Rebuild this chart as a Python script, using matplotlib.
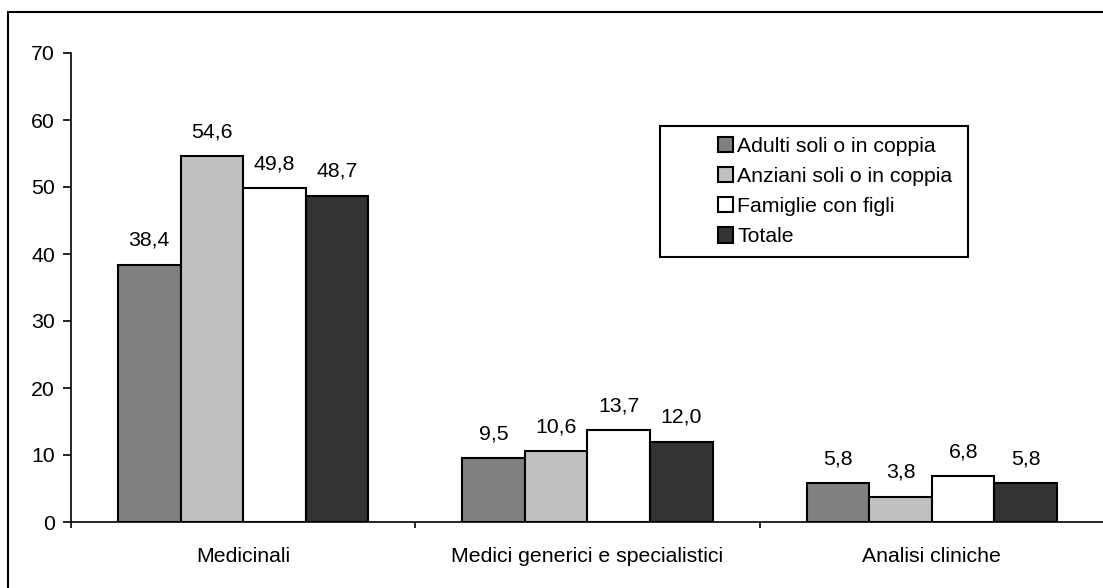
import matplotlib
matplotlib.use('Agg')
import matplotlib.pyplot as plt
from matplotlib.patches import Rectangle
import numpy as np

plt.rcParams['font.family'] = ['Liberation Sans', 'DejaVu Sans']

categorie = ['Medicinali', 'Medici generici e specialistici', 'Analisi cliniche']
serie = ['Adulti soli o in coppia', 'Anziani soli o in coppia', 'Famiglie con figli', 'Totale']
adulti = [38.4, 9.5, 5.8]
anziani = [54.6, 10.6, 3.8]
famiglie = [49.8, 13.7, 6.8]
totale = [48.7, 12.0, 5.8]
valori = [adulti, anziani, famiglie, totale]
colori = ['#808080', '#c0c0c0', '#ffffff', '#333333']

W, H = 1103, 588
FS = 15.3
fig = plt.figure(figsize=(W / 100, H / 100), dpi=100)

# cornice esterna (tagliata a destra e in basso come nell'originale)
fig.patches.append(Rectangle((8 / W, -0.1), 1.2, 1 - 12 / H + 0.1, transform=fig.transFigure,
                             fill=False, edgecolor='black', linewidth=1.5, clip_on=False))

ax = fig.add_axes([71 / W, 1 - 522 / H, (1104 - 71) / W, (522 - 53) / H])

x = np.arange(len(categorie))
w = 1 / 5.5
for i, (nome, vals, col) in enumerate(zip(serie, valori, colori)):
    pos = x + (i - 1.5) * w
    bars = ax.bar(pos, vals, width=w, color=col, edgecolor='black', linewidth=1.5, label=nome, zorder=3)
    for b, v in zip(bars, vals):
        ax.annotate(f'{v:.1f}'.replace('.', ','), (b.get_x() + b.get_width() / 2, v),
                    xytext=(0, 17.5), textcoords='offset points', ha='center', va='center', fontsize=FS)

ax.set_xlim(-0.5, 2.5)
ax.set_ylim(0, 70)
ax.set_yticks(range(0, 71, 10))
ax.set_xticks(x)
ax.set_xticklabels(categorie, fontsize=FS)
ax.set_xticks([-0.5, 0.5, 1.5, 2.5], minor=True)
ax.tick_params(axis='x', which='major', length=0, pad=18)
ax.tick_params(axis='x', which='minor', length=4.5, width=1.2, direction='out')
ax.tick_params(axis='y', length=5.5, width=1.2, pad=6, labelsize=FS)
for s in ['top', 'right']:
    ax.spines[s].set_visible(False)
for s in ['left', 'bottom']:
    ax.spines[s].set_linewidth(1.2)

# riquadro della legenda
fig.patches.append(Rectangle((660 / W, 1 - 257 / H), 308 / W, 131 / H, transform=fig.transFigure,
                             fill=False, edgecolor='black', linewidth=1.5))
ax.legend(loc='upper left', bbox_to_anchor=(707 / W, 1 - 126 / H), bbox_transform=fig.transFigure,
          frameon=False, fontsize=FS, handlelength=0.72, handleheight=0.72,
          handletextpad=0.2, labelspacing=0.53, borderpad=0)

fig.savefig('out.png', dpi=100)
